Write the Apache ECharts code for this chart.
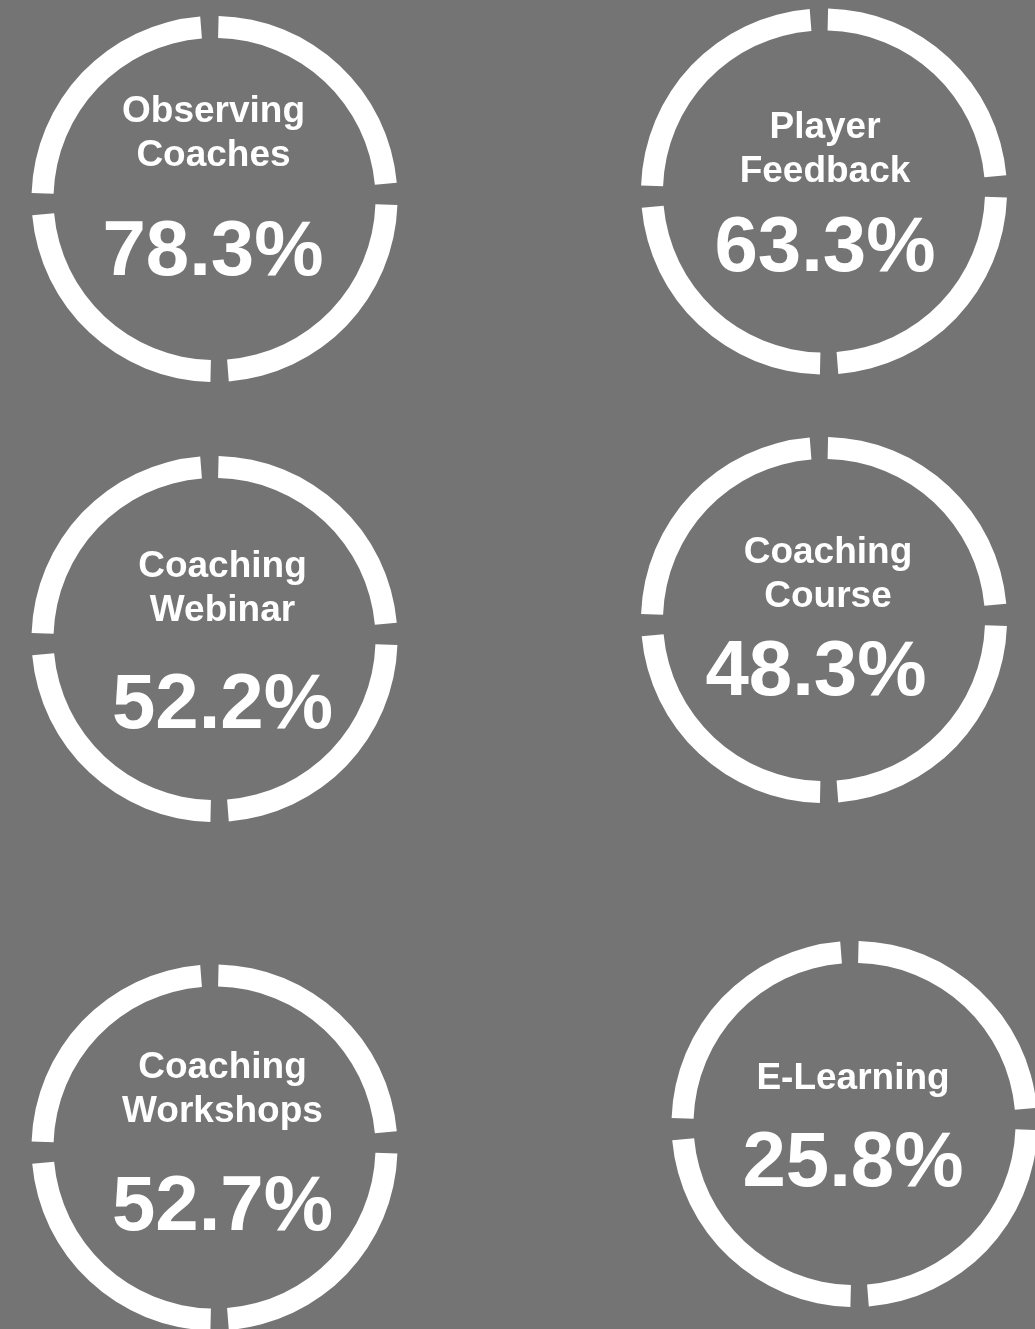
<!DOCTYPE html>
<html>
<head>
<meta charset="utf-8">
<script src="https://cdn.jsdelivr.net/npm/echarts@6/dist/echarts.min.js"></script>
<style>
  html, body { margin: 0; padding: 0; background: #737473; }
  #chart { width: 1035px; height: 1329px; }
</style>
</head>
<body>
<div id="chart"></div>
<script>
  // data
  const categories = ['Observing\nCoaches', 'Player\nFeedback', 'Coaching\nWebinar', 'Coaching\nCourse', 'Coaching\nWorkshops', 'E-Learning'];
  const percentages = [78.3, 63.3, 52.2, 48.3, 52.7, 25.8];
  // every ring is cut in four equal quarters
  const ringQuarters = [25, 25, 25, 25];

  // layout: ring centre, offset of name block, offset of percent text
  const layout = [
    { c: [214.5, 199],    t: [-1, -65.5], p: [-1.5, 54] },
    { c: [824, 191.5],    t: [1, -42],    p: [1, 57.5] },
    { c: [214.5, 639],    t: [8, -50.5],  p: [8, 67] },
    { c: [824, 620],      t: [4, -45],    p: [-8, 53] },
    { c: [214.5, 1147.5], t: [8, -57.5],  p: [8, 60.5] },
    { c: [854.5, 1124],   t: [-1.5, -45.5], p: [-1.5, 40] }
  ];

  const ringOuter = 183, ringInner = 161;
  const tilt = 1.6;            // rings are turned a little anticlockwise
  const gapTopPx = 17.3, gapSidePx = 20.8;
  const midR = (ringOuter + ringInner) / 2;
  const toDeg = px => px / midR * 180 / Math.PI;
  const gapTop = toDeg(gapTopPx), gapSide = toDeg(gapSidePx);
  const unit = ringQuarters.reduce((a, b) => a + b, 0) / 360;   // value units per degree

  function ringData() {
    // clockwise from the top gap: arc, right gap, arc, bottom gap, arc, left gap, arc, top gap
    const gaps = [gapSide, gapTop, gapSide, gapTop];
    const out = [];
    ringQuarters.forEach((q, i) => {
      out.push({ value: q - (gapTop + gapSide) / 2 * unit, itemStyle: { color: '#ffffff' } });
      out.push({ value: gaps[i] * unit, itemStyle: { color: 'rgba(0,0,0,0)' } });
    });
    return out;
  }

  const chart = echarts.init(document.getElementById('chart'));

  const series = layout.map(l => ({
    type: 'pie',
    center: l.c,
    radius: [ringInner, ringOuter],
    startAngle: 90 + tilt - gapTop / 2,
    silent: true,
    animation: false,
    label: { show: false },
    labelLine: { show: false },
    emphasis: { disabled: true },
    data: ringData()
  }));

  const graphics = [];
  layout.forEach((l, i) => {
    graphics.push({
      type: 'text',
      x: l.c[0] + l.t[0],
      y: l.c[1] + l.t[1],
      silent: true,
      style: {
        text: categories[i],
        fill: '#ffffff',
        fontSize: 37,
        fontWeight: 'bold',
        fontFamily: '"Liberation Sans", Arial, sans-serif',
        lineHeight: 44,
        align: 'center',
        verticalAlign: 'middle'
      }
    });
    graphics.push({
      type: 'text',
      x: l.c[0] + l.p[0],
      y: l.c[1] + l.p[1],
      silent: true,
      style: {
        text: percentages[i].toFixed(1) + '%',
        fill: '#ffffff',
        fontSize: 78,
        fontWeight: 'bold',
        fontFamily: '"Liberation Sans", Arial, sans-serif',
        align: 'center',
        verticalAlign: 'middle'
      }
    });
  });

  chart.setOption({
    backgroundColor: '#737473',
    series: series,
    graphic: graphics
  });
</script>
</body>
</html>
